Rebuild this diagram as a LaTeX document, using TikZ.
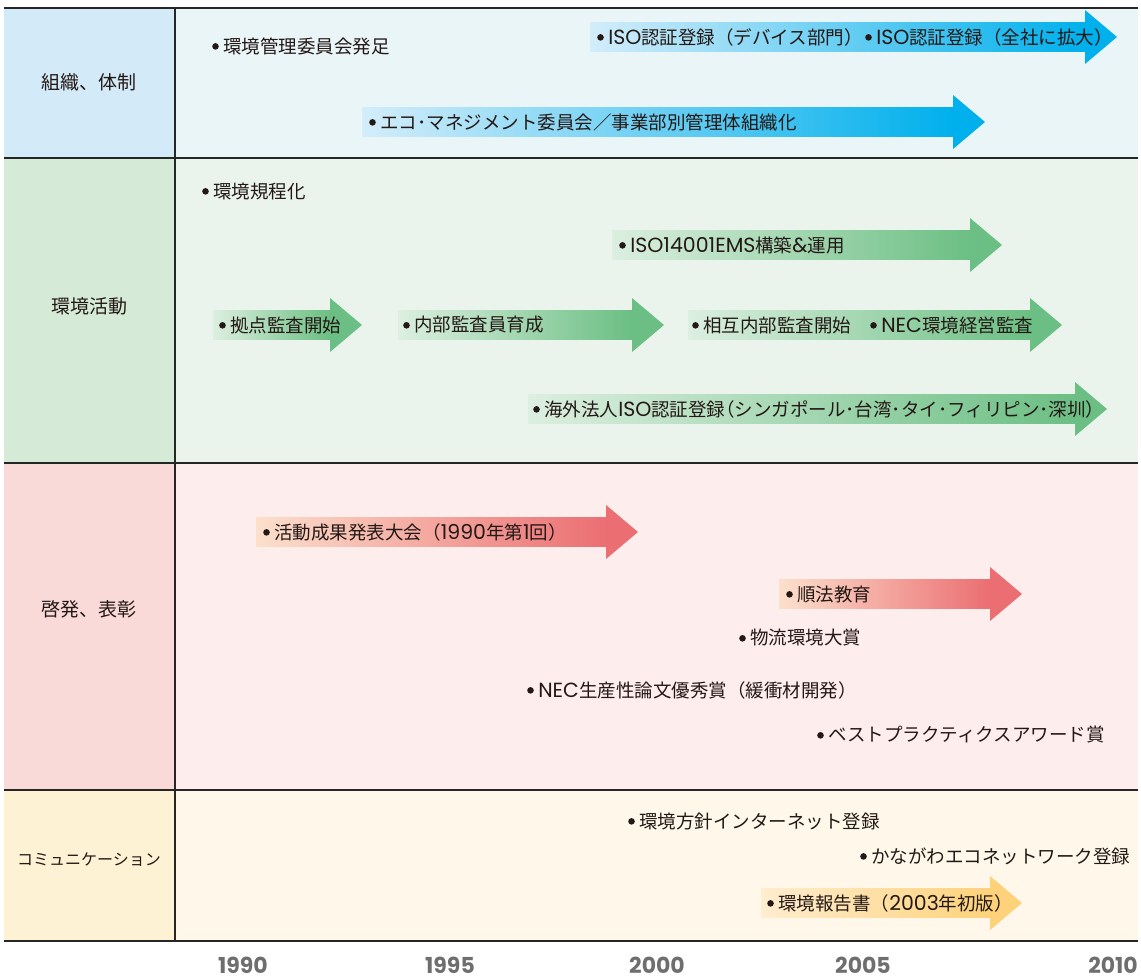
\documentclass[tikz,border=0pt]{standalone}
\usepackage{fontspec}
\setmainfont{Noto Sans CJK JP}
\newfontfamily\paltfont{Noto Sans CJK JP}[RawFeature=+palt]
\newfontfamily\enfont{Poppins}
\newfontfamily\yearfont{Poppins}

\definecolor{inkcol}{HTML}{231815}
\definecolor{yeargray}{HTML}{6E6E6E}
% row fills (label column, time column)
\definecolor{orgL}{HTML}{D3EBF8}\definecolor{orgR}{HTML}{EAF5F8}
\definecolor{actL}{HTML}{D5EBD8}\definecolor{actR}{HTML}{EAF4EC}
\definecolor{eduL}{HTML}{F9DAD9}\definecolor{eduR}{HTML}{FDEDED}
\definecolor{comL}{HTML}{FEF2D5}\definecolor{comR}{HTML}{FFF8EA}
% arrow gradients
\definecolor{blueA}{HTML}{D3EDFA}\definecolor{blueB}{HTML}{00B0EC}
\definecolor{greenA}{HTML}{DCEFE0}\definecolor{greenB}{HTML}{6CBF84}
\definecolor{redA}{HTML}{FCE0CC}\definecolor{redB}{HTML}{EB6E72}
\definecolor{yelA}{HTML}{FFEDD0}\definecolor{yelB}{HTML}{FDD27A}

\newcommand{\itemdot}{\tikz[baseline=-0.36em]\fill[inkcol] (0,0) circle (3.3pt);\hspace{4.5pt}}
\newcommand{\en}[1]{{\enfont\fontsize{20.5}{22}\selectfont #1}}
\newcommand{\lpar}{{\paltfont （}}
\newcommand{\rpar}{{\paltfont ）}}
% #1 start x, #2 head x, #3 y, #4 light colour, #5 dark colour
\newcommand{\bandarrow}[5]{%
  \shade[left color=#4, right color=#5] (#1,#3-14.5) rectangle (#2,#3+14.5);
  \fill[#5] (#2,#3-27) -- (#2+32,#3) -- (#2,#3+27) -- cycle;
}

\tikzset{
  item/.style={anchor=west, inner sep=0pt, text=inkcol, font=\fontsize{18.5}{20}\selectfont},
  rowlabel/.style={inner sep=0pt, text=inkcol, font=\fontsize{19}{22}\selectfont},
  yearlabel/.style={inner sep=0pt, anchor=base, text=yeargray, font=\yearfont\bfseries\fontsize{22}{24}\selectfont},
  rule/.style={line width=1.5pt, black!85},
}

\begin{document}
\begin{tikzpicture}[x=1pt,y=-1pt]
  \useasboundingbox (0,0) rectangle (1141,980);

  % rows
  \fill[orgL] (4,8) rectangle (175,158);   \fill[orgR] (175,8) rectangle (1138,158);
  \fill[actL] (4,158) rectangle (175,463); \fill[actR] (175,158) rectangle (1138,463);
  \fill[eduL] (4,463) rectangle (175,790); \fill[eduR] (175,463) rectangle (1138,790);
  \fill[comL] (4,790) rectangle (175,941); \fill[comR] (175,790) rectangle (1138,941);
  \foreach \y in {8,158,463,790,941}
    \draw[rule] (4,\y) -- (1138,\y);
  \draw[rule] (175,8) -- (175,941);

  \node[rowlabel] (org) at (89,82) {組織、体制};
  \node[rowlabel] (act) at (89,306) {環境活動};
  \node[rowlabel] (edu) at (89,609) {啓発、表彰};
  \node[rowlabel, font=\fontsize{16}{18}\selectfont] (com) at (89,860) {コミュニケーション};

  % arrows
  \bandarrow{590}{1085}{37}{blueA}{blueB}
  \bandarrow{362}{953}{122}{blueA}{blueB}
  \bandarrow{612}{970}{245}{greenA}{greenB}
  \bandarrow{213}{330}{325}{greenA}{greenB}
  \bandarrow{398}{632}{325}{greenA}{greenB}
  \bandarrow{688}{1030}{325}{greenA}{greenB}
  \bandarrow{528}{1075}{409}{greenA}{greenB}
  \bandarrow{256}{606}{532}{redA}{redB}
  \bandarrow{779}{990}{594}{redA}{redB}
  \bandarrow{761}{990}{903}{yelA}{yelB}

  % items
  \node[item] (iinkai) at (212,46) {\itemdot 環境管理委員会発足};
  \node[item] (isodev) at (597,37) {\itemdot \en{ISO}認証登録（デバイス部門）};
  \node[item] (isoall) at (865,37) {\itemdot \en{ISO}認証登録（全社に拡大）};
  \node[item] (ecomgt) at (369,122) {\itemdot エコ･マネジメント委員会／事業部別管理体組織化};
  \node[item] (kitei) at (202,191) {\itemdot 環境規程化};
  \node[item] (ems) at (619,245) {\itemdot \en{ISO14001EMS}構築\en{\&}運用};
  \node[item] (kyoten) at (219,325) {\itemdot 拠点監査開始};
  \node[item] (naibu) at (403,325) {\itemdot 内部監査員育成};
  \node[item] (sogo) at (692,325) {\itemdot 相互内部監査開始};
  \node[item] (keiei) at (870,325) {\itemdot \en{NEC}環境経営監査};
  \node[item] (kaigai) at (533,409) {\itemdot 海外法人\en{ISO}認証登録\lpar シンガポール･台湾･タイ･フィリピン･深圳\rpar};
  \node[item] (happyo) at (263,532) {\itemdot 活動成果発表大会（\en{1990}年第\en{1}回）};
  \node[item] (junpo) at (786,594) {\itemdot 順法教育};
  \node[item] (butsuryu) at (739,638) {\itemdot 物流環境大賞};
  \node[item] (ronbun) at (527,690) {\itemdot \en{NEC}生産性論文優秀賞（緩衝材開発）};
  \node[item] (best) at (817,735) {\itemdot ベストプラクティクスアワード賞};
  \node[item] (hoshin) at (628,821) {\itemdot 環境方針インターネット登録};
  \node[item] (kanagawa) at (860,856) {\itemdot かながわエコネットワーク登録};
  \node[item] (hokoku) at (767,903) {\itemdot 環境報告書（\en{2003}年初版）};

  % years
  \node[yearlabel] (y1990) at (243,973) {1990};
  \node[yearlabel] (y1995) at (450,973) {1995};
  \node[yearlabel] (y2000) at (657,973) {2000};
  \node[yearlabel] (y2005) at (863,973) {2005};
  \node[yearlabel, anchor=base east] (y2010) at (1138,973) {2010};
\end{tikzpicture}
\end{document}
